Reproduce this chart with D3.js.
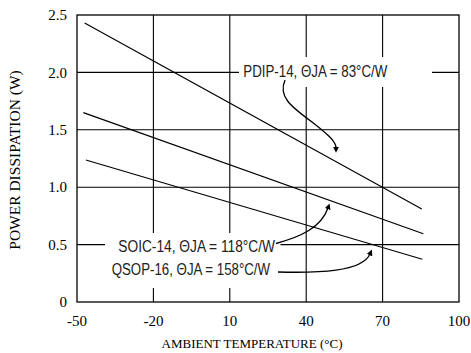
<!DOCTYPE html>
<html>
<head>
<meta charset="utf-8">
<script src="https://cdn.jsdelivr.net/npm/d3@7"></script>
<style>
  body { margin: 0; background: #fff; }
  svg { display: block; }
</style>
</head>
<body>
<svg id="chart" width="471" height="353"></svg>
<script>
// derating curves
var xTicks = [-50, -20, 10, 40, 70, 100];
var yTicks = [0, 0.5, 1.0, 1.5, 2.0, 2.5];
var yTickLabels = ["0", "0.5", "1.0", "1.5", "2.0", "2.5"];

var pdipTemp = [-47, 85.4];
var pdipPower = [2.43, 0.81];
var soicTemp = [-47.5, 86];
var soicPower = [1.65, 0.595];
var qsopTemp = [-46.5, 85.6];
var qsopPower = [1.237, 0.372];

var series = [
  {name: "PDIP-14", t: pdipTemp, p: pdipPower},
  {name: "SOIC-14", t: soicTemp, p: soicPower},
  {name: "QSOP-16", t: qsopTemp, p: qsopPower}
];

var svg = d3.select("#chart");
var margin = {top: 15, right: 12, bottom: 51, left: 77};
var width = 471 - margin.left - margin.right;
var height = 353 - margin.top - margin.bottom;

var x = d3.scaleLinear().domain([-50, 100]).range([margin.left, margin.left + width]);
var y = d3.scaleLinear().domain([0, 2.5]).range([margin.top + height, margin.top]);

var serif = "'Liberation Serif', 'Times New Roman', serif";
var sans = "'Liberation Sans', Arial, sans-serif";

// grid
var grid = svg.append("g").attr("stroke", "#000").attr("stroke-width", 1.1);
grid.selectAll("line.v")
    .data(xTicks.slice(1, -1))
    .enter().append("line")
    .attr("x1", d => x(d)).attr("x2", d => x(d))
    .attr("y1", y(0)).attr("y2", y(2.5));
grid.selectAll("line.h")
    .data(yTicks.slice(1, -1))
    .enter().append("line")
    .attr("x1", x(-50)).attr("x2", x(100))
    .attr("y1", d => y(d)).attr("y2", d => y(d));

// tick labels
svg.append("g").selectAll("text")
    .data(xTicks)
    .enter().append("text")
    .attr("x", d => x(d))
    .attr("y", y(0) + 24)
    .attr("text-anchor", "middle")
    .style("font-family", serif).style("font-size", "15px")
    .text(d => d);

svg.append("g").selectAll("text")
    .data(yTicks)
    .enter().append("text")
    .attr("x", x(-50) - 10)
    .attr("y", d => y(d))
    .attr("dy", "0.35em")
    .attr("text-anchor", "end")
    .style("font-family", serif).style("font-size", "15px")
    .text((d, i) => yTickLabels[i]);

svg.append("text")
    .attr("x", 252)
    .attr("y", 348)
    .attr("text-anchor", "middle")
    .style("font-family", serif).style("font-size", "13px")
    .text("AMBIENT TEMPERATURE (°C)");

svg.append("text")
    .attr("transform", "translate(20,160) rotate(-90)")
    .attr("text-anchor", "middle")
    .style("font-family", serif).style("font-size", "15.5px")
    .text("POWER DISSIPATION (W)");

// curves
var line = d3.line().x(d => x(d[0])).y(d => y(d[1]));
svg.append("g").selectAll("path")
    .data(series)
    .enter().append("path")
    .attr("d", d => line(d3.zip(d.t, d.p)))
    .attr("fill", "none")
    .attr("stroke", "#000")
    .attr("stroke-width", 1.2);

// label boxes knock out the grid behind the callouts
var boxes = [
  {x0: 239, x1: 432, y0: 57, y1: 87},
  {x0: 105, x1: 280.5, y0: 233, y1: 288}
];
svg.append("g").selectAll("rect")
    .data(boxes)
    .enter().append("rect")
    .attr("x", d => d.x0).attr("y", d => d.y0)
    .attr("width", d => d.x1 - d.x0).attr("height", d => d.y1 - d.y0)
    .attr("fill", "#fff");

var labels = [
  {text: "PDIP-14, \u0398JA = 83°C/W", x: 243.3, y: 76.7, len: 144},
  {text: "SOIC-14, \u0398JA = 118°C/W", x: 118.3, y: 252.3, len: 156.7},
  {text: "QSOP-16, \u0398JA = 158°C/W", x: 111.7, y: 274.8, len: 158.3}
];
svg.append("g").selectAll("text")
    .data(labels)
    .enter().append("text")
    .attr("x", d => d.x).attr("y", d => d.y)
    .attr("textLength", d => d.len)
    .attr("lengthAdjust", "spacingAndGlyphs")
    .style("font-family", sans).style("font-size", "16px")
    .style("fill", "#222")
    .text(d => d.text);

// arrows
svg.append("defs").append("marker")
    .attr("id", "head")
    .attr("viewBox", "0 0 10 10")
    .attr("refX", 2).attr("refY", 5)
    .attr("markerWidth", 6).attr("markerHeight", 6)
    .attr("markerUnits", "userSpaceOnUse")
    .attr("orient", "auto")
    .append("path")
    .attr("d", "M0,0 L10,5 L0,10 Z")
    .attr("fill", "#000");

var arrows = [
  "M285,80 C278,96 290,106 312,122 C330,136 336,142 336,148",
  "M276,243.5 C300,237 321,228 328,208",
  "M278,272 C318,273 362,272 370,254"
];
svg.append("g").selectAll("path")
    .data(arrows)
    .enter().append("path")
    .attr("d", d => d)
    .attr("fill", "none")
    .attr("stroke", "#000")
    .attr("stroke-width", 1.3)
    .attr("marker-end", "url(#head)");

// frame
svg.append("rect")
    .attr("x", x(-50)).attr("y", y(2.5))
    .attr("width", x(100) - x(-50)).attr("height", y(0) - y(2.5))
    .attr("fill", "none")
    .attr("stroke", "#000")
    .attr("stroke-width", 1.3);
</script>
</body>
</html>
